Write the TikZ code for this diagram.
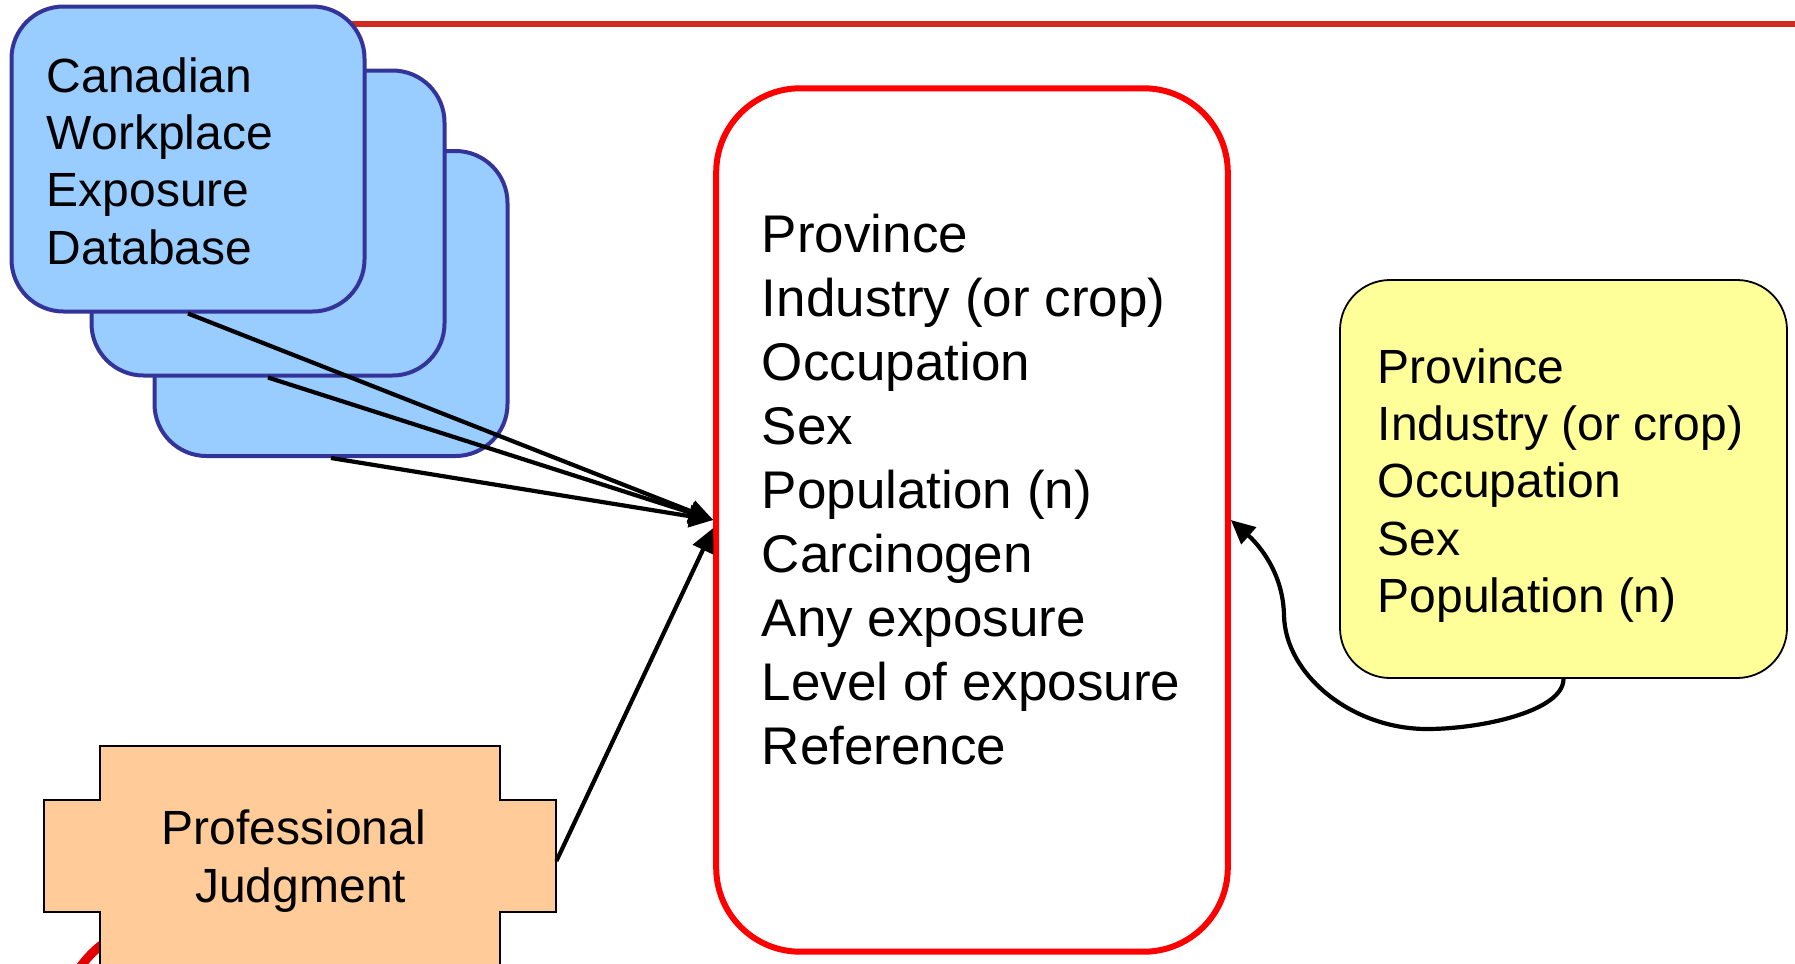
\documentclass[tikz,border=0pt]{standalone}
\usepackage{fontspec}
\setmainfont{Liberation Sans}
\usetikzlibrary{arrows.meta,positioning}
\definecolor{dbfill}{RGB}{153,204,255}
\definecolor{dbline}{RGB}{51,51,153}
\definecolor{rulered}{RGB}{208,41,30}
\definecolor{censusfill}{RGB}{255,255,153}
\definecolor{judgefill}{RGB}{255,204,153}
\definecolor{ringred}{RGB}{228,0,0}

\begin{document}
\begin{tikzpicture}[x=0.5pt,y=-0.5pt,
  dbcard/.style={draw=dbline,fill=dbfill,line width=2pt,rounded corners=26pt,
    minimum width=176.5pt,minimum height=152.5pt,inner sep=0pt},
  biglist/.style={anchor=north west,inner sep=0pt,align=left,
    font=\fontsize{26.5pt}{32pt}\selectfont},
  smalllist/.style={anchor=north west,inner sep=0pt,align=left,
    font=\fontsize{24pt}{28.7pt}\selectfont},
  feed/.style={-{Triangle[length=12pt,width=11pt]},line width=2.1pt}]
  % page is 1795 x 964 px, y runs downwards
  \useasboundingbox (0,0) rectangle (1795,964);
  \clip (0,0) rectangle (1795,964);
  % header rule and the ring hidden behind the judgment box
  \draw[rulered,line width=3.3pt] (300,24) -- (1795,24);
  \draw[ringred,line width=4.5pt] (168,1030) circle[radius=54pt];
  % stacked exposure database cards, back to front
  \node[dbcard] (db3) at (331,303.5) {};
  \node[dbcard] (db2) at (268,223) {};
  \node[dbcard] (db1) at (188,159) {};
  \node[smalllist] (dbname) at (46.5,57) {Canadian\\Workplace\\Exposure\\Database};
  % central record
  \node[draw=red,line width=3pt,rounded corners=42pt,
    minimum width=255.8pt,minimum height=431.7pt] (cwed) at (972,520) {};
  \node[biglist] (fields) at (761.5,214) {Province\\Industry (or crop)\\Occupation\\Sex\\
    Population (n)\\Carcinogen\\Any exposure\\Level of exposure\\Reference};
  % census counts
  \node[draw,fill=censusfill,line width=0.9pt,rounded corners=25pt,
    minimum width=223.5pt,minimum height=199pt] (census) at (1563.5,479) {};
  \node[smalllist] (censusfields) at (1377.5,348) {Province\\Industry (or crop)\\Occupation\\Sex\\
    Population (n)};
  % professional judgment cross
  \draw[fill=judgefill,line width=1pt] (100,746) -- (500,746) -- (500,800) -- (556,800)
    -- (556,912) -- (500,912) -- (500,1000) -- (100,1000) -- (100,912) -- (43.5,912)
    -- (43.5,800) -- (100,800) -- cycle;
  \node[minimum width=262pt,minimum height=56pt,inner sep=0pt,align=center,
    font=\fontsize{24pt}{29pt}\selectfont] (judge) at (294,861) {Professional\\\hspace*{6.7pt}Judgment};
  % inputs
  \draw[feed] (db1.south) -- (cwed.west);
  \draw[feed] (db2.south) -- (cwed.west);
  \draw[feed] (db3.south) -- (cwed.west);
  \draw[feed] (judge.east) -- ([yshift=-4pt]cwed.west);
  \draw[feed] (census.south) .. controls +(0,32) and +(55,0) .. (1427,729)
    .. controls +(-75,0) and +(1,60) .. (1284,615)
    .. controls +(-1,-45) and +(25,22) .. (cwed.east);
\end{tikzpicture}
\end{document}
